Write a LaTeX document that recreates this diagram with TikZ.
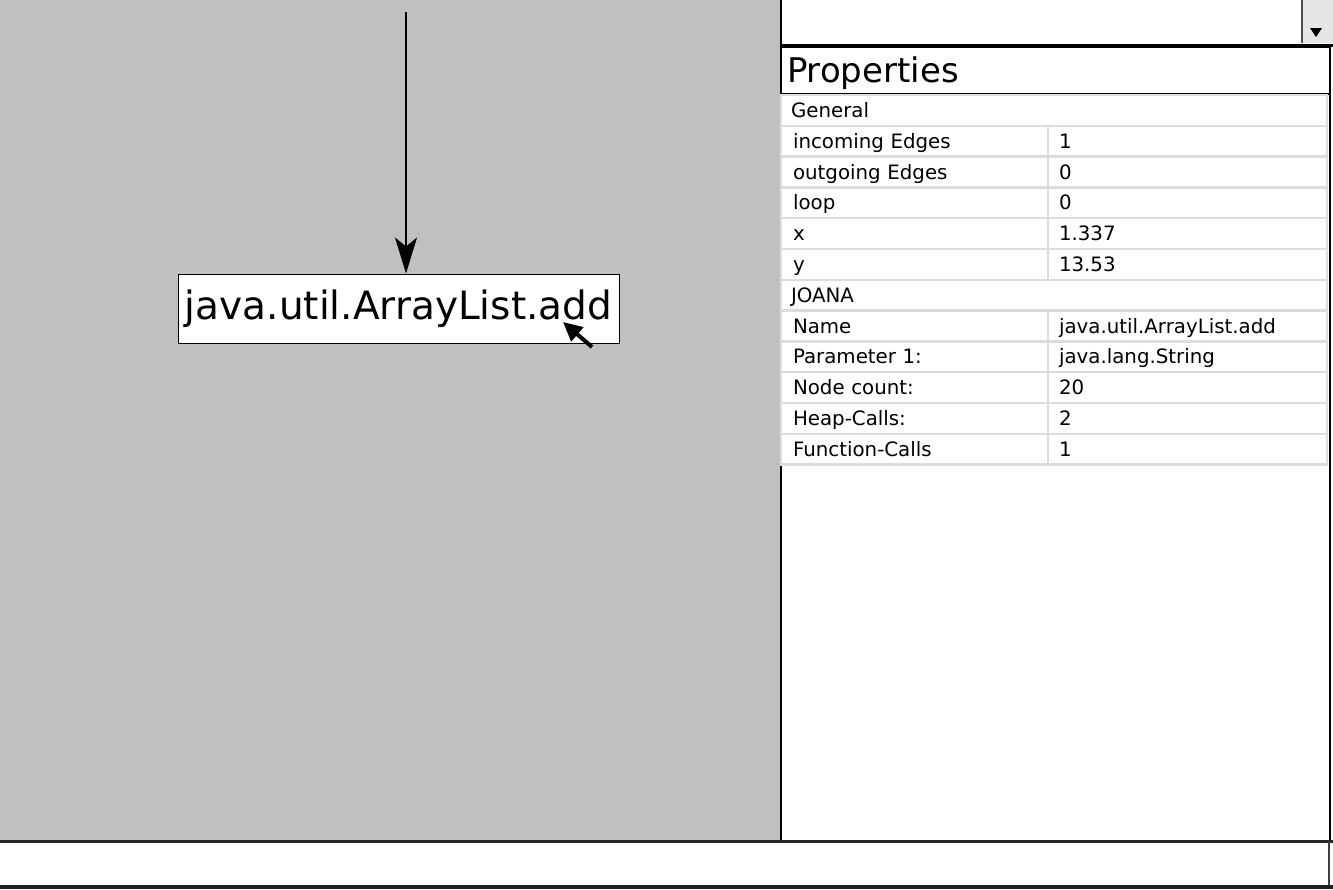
\documentclass[tikz,border=0pt]{standalone}
\usepackage{fontspec}
\setmainfont{DejaVu Sans}
\usetikzlibrary{arrows.meta}

\definecolor{canvasgray}{RGB}{192,192,192}
\definecolor{cellgray}{RGB}{220,220,220}
\definecolor{btngray}{RGB}{230,230,230}

\begin{document}
\begin{tikzpicture}[x=1pt,y=-1pt,
	cell/.style={draw=cellgray,line width=2.5pt,fill=white,anchor=north west,outer sep=0pt,
		minimum height=30.8pt,inner xsep=10pt,align=left,text height=17pt,text depth=3pt,
		font=\fontsize{19.8}{22}\selectfont},
	keycell/.style={cell,inner xsep=12pt,text width=243pt},
	valcell/.style={cell,inner xsep=11pt,text width=257pt},
	groupcell/.style={cell,text width=526pt},
	callnode/.style={draw,line width=1pt,fill=white,minimum width=441pt,minimum height=69pt,
		inner sep=0pt,font=\fontsize{39}{44}\selectfont},
	edge/.style={line width=2pt,-{Stealth[length=36pt,width=22pt,inset=9pt]}}]
			\useasboundingbox (0,0) rectangle (1333,889);
			% canvas and side panel
			\fill[canvasgray] (0,0) rectangle (781,841);
			\fill[white] (781,0) rectangle (1333,841);
			\draw[line width=2.5pt] (781,0) -- (781,841);
			\draw[line width=2pt] (1330,47) -- (1330,841);
			% drop down
			\fill[btngray] (1302,0) rectangle (1333,43);
			\draw[line width=1.5pt,black!70] (1302,0) -- (1302,43);
			\fill (1310,28) -- (1322,28) -- (1316,37) -- cycle;
			\draw[line width=3pt] (781,45) -- (1333,45);
			% graph
			\node[callnode] (add) at (398.5,308.5) {java.util.ArrayList.add};
			\coordinate (src) at (406,12);
			\draw[edge] (src) -- (src |- add.north);
			\coordinate (ptrtail) at (592,347);
			\coordinate (ptrtip) at (563,322);
			\draw[line width=4pt,-{Triangle[length=19pt,width=18pt]}] (ptrtail) -- (ptrtip);
			% properties
			\node[draw,line width=2.5pt,fill=white,anchor=north west,outer sep=0pt,minimum height=47pt,
				inner xsep=6pt,text width=537pt,align=left,text height=28pt,text depth=5pt,
				font=\fontsize{34}{38}\selectfont] (props) at (781,47) {Properties};
			\node[groupcell] (general) at (781,95) {General};
			\node[keycell] (inK) at (general.south west) {incoming Edges};
			\node[valcell] (inV) at (inK.north east) {1};
			\node[keycell] (outK) at (inK.south west) {outgoing Edges};
			\node[valcell] (outV) at (outK.north east) {0};
			\node[keycell] (loopK) at (outK.south west) {loop};
			\node[valcell] (loopV) at (loopK.north east) {0};
			\node[keycell] (xK) at (loopK.south west) {x};
			\node[valcell] (xV) at (xK.north east) {1.337};
			\node[keycell] (yK) at (xK.south west) {y};
			\node[valcell] (yV) at (yK.north east) {13.53};
			\node[groupcell] (joana) at (yK.south west) {JOANA};
			\node[keycell] (nameK) at (joana.south west) {Name};
			\node[valcell] (nameV) at (nameK.north east) {java.util.ArrayList.add};
			\node[keycell] (paramK) at (nameK.south west) {Parameter 1:};
			\node[valcell] (paramV) at (paramK.north east) {java.lang.String};
			\node[keycell] (countK) at (paramK.south west) {Node count:};
			\node[valcell] (countV) at (countK.north east) {20};
			\node[keycell] (heapK) at (countK.south west) {Heap-Calls:};
			\node[valcell] (heapV) at (heapK.north east) {2};
			\node[keycell] (funcK) at (heapK.south west) {Function-Calls};
			\node[valcell] (funcV) at (funcK.north east) {1};
			% status bar
			\fill[white] (0,841) rectangle (1333,889);
			\draw[line width=3pt,black!85] (0,841) -- (1333,841);
			\draw[line width=2pt,black!75] (1329,841) -- (1329,887);
			\draw[line width=4.5pt,black!88] (0,887) -- (1333,887);
\end{tikzpicture}
\end{document}
